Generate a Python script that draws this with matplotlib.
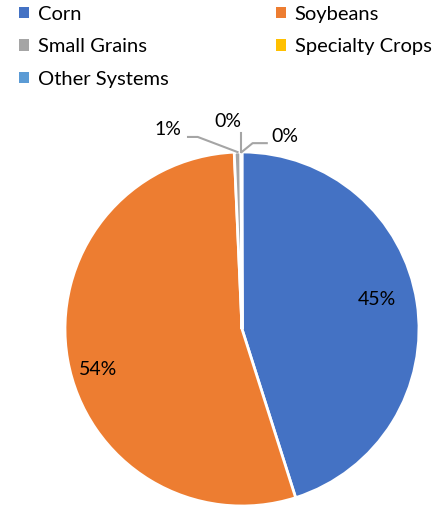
import numpy as np
import matplotlib.pyplot as plt
from matplotlib.patches import Patch

plt.rcParams['font.family'] = ['Lato', 'DejaVu Sans']

categories = ['Corn', 'Soybeans', 'Small Grains', 'Specialty Crops', 'Other Systems']
values = [45.1, 54.2, 0.6, 0.05, 0.05]
labels = ['45%', '54%', '1%', '0%', '0%']
colors = ['#4472C4', '#ED7D31', '#A5A5A5', '#FFC000', '#5B9BD5']

fig = plt.figure(figsize=(4.39, 5.09), dpi=100)
ax = fig.add_axes([65 / 439, 3 / 509, 354 / 439, 354 / 509])

wedges, _ = ax.pie(values, colors=colors, startangle=90, counterclock=False,
                   wedgeprops=dict(edgecolor='white', linewidth=2))
ax.set_xlim(-1, 1)
ax.set_ylim(-1, 1)
ax.set_aspect('equal')
ax.axis('off')

# label positions (axes data units, pie radius = 1)
label_pos = [(0.765, 0.165), (-0.815, -0.23), (-0.42, 1.125), (-0.08, 1.17), (0.245, 1.085)]

for w, lab, (tx, ty) in zip(wedges, labels, label_pos):
    mid = np.deg2rad((w.theta1 + w.theta2) / 2)
    px, py = np.cos(mid), np.sin(mid)
    if lab == '1%':
        ax.plot([px, -0.25, -0.305], [py, 1.085, 1.085], color='#A5A5A5', lw=1.5, clip_on=False)
    elif lab == '0%' and tx > 0:
        ax.plot([px, 0.06, 0.14], [py, 1.05, 1.05], color='#A5A5A5', lw=1.5, clip_on=False)
    elif lab == '0%':
        ax.plot([px, px], [py, 1.11], color='#A5A5A5', lw=1.5, clip_on=False)
    ax.text(tx, ty, lab, ha='center', va='center', fontsize=14)

handles = [Patch(facecolor=c, edgecolor='none') for c in colors]
order = [0, 2, 4, 1, 3]
fig.legend([handles[i] for i in order], [categories[i] for i in order],
           ncol=2, loc='upper left', bbox_to_anchor=(0.025, 1.005), frameon=False,
           fontsize=14.5, handlelength=0.5, handleheight=0.5, handletextpad=0.45,
           columnspacing=5.3, labelspacing=0.77, borderaxespad=0.0)

fig.savefig('out.png', dpi=100)
